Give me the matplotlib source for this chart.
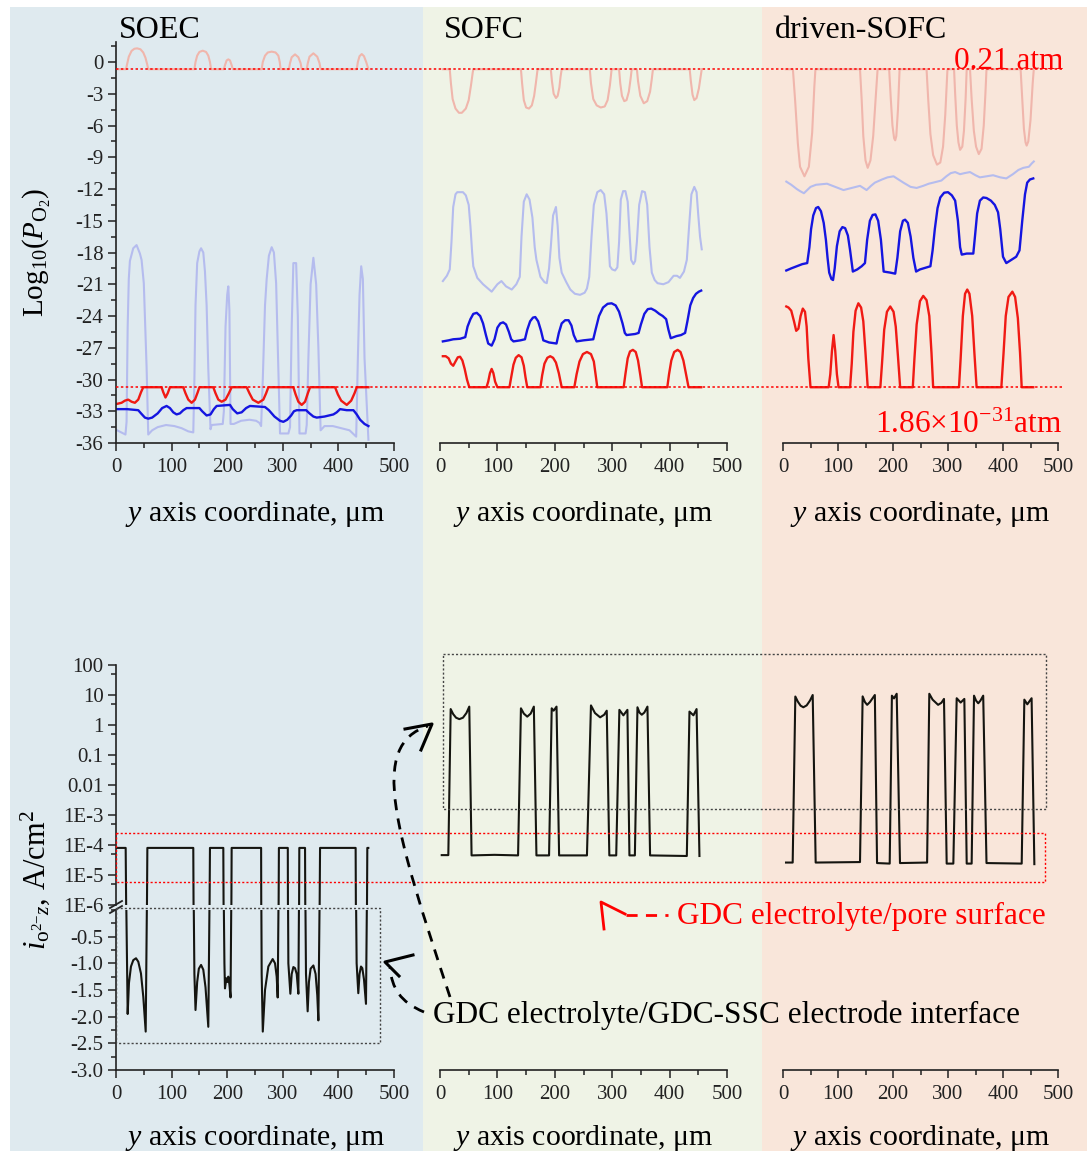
import numpy as np
import matplotlib
matplotlib.use("Agg")
import matplotlib.pyplot as plt
from matplotlib.lines import Line2D
from matplotlib.patches import Rectangle, PathPatch
from matplotlib.path import Path
import matplotlib.transforms as mtransforms
from matplotlib.ticker import MultipleLocator, FixedLocator, FixedFormatter

plt.rcParams['font.family'] = ['Liberation Serif', 'DejaVu Serif']
plt.rcParams['mathtext.fontset'] = 'custom'
plt.rcParams['mathtext.rm'] = 'Liberation Serif'
plt.rcParams['mathtext.it'] = 'Liberation Serif:italic'
plt.rcParams['mathtext.bf'] = 'Liberation Serif:bold'
plt.rcParams['axes.unicode_minus'] = False

# ---------------- data ----------------
PANELS = ['SOEC', 'SOFC', 'driven-SOFC']
P_AIR = 0.21
P_LOW = 1.86e-31
B = -0.68  # log10(0.21)

# top row: log10(P_O2) vs y (um)
SOEC_PINK = np.array([(2, B), (18, B), (20, -0.2), (23, 0.5), (28, 1.05), (33, 1.25), (38, 1.29), (44, 1.2), (49, 0.9), (53, 0.4), (56, -0.2), (58, B),
    (141, B), (143, 0.0), (146, 0.6), (150, 0.95), (156, 1.07), (162, 0.95), (166, 0.6), (169, 0.0), (171, B),
    (194, B), (196, -0.3), (199, 0.15), (202, 0.25), (205, 0.15), (208, -0.3), (210, B),
    (262, B), (264, 0.0), (268, 0.6), (273, 0.9), (280, 0.98), (287, 0.9), (292, 0.6), (294.5, 0.0), (296, B),
    (311, B), (313, -0.1), (316, 0.45), (322, 0.72), (328, 0.45), (332, -0.1), (334, B),
    (343, B), (345, -0.1), (348, 0.5), (355, 0.82), (362, 0.5), (366, -0.1), (368, B),
    (433, B), (435, 0.0), (438, 0.55), (442, 0.75), (446, 0.55), (450, 0.0), (454, B)])
SOEC_LAV = np.array([(2, -34.8), (17, -35.2), (19, -34.0), (21, -25.0), (23, -20.5), (25, -18.8), (31, -17.6), (37, -17.3), (43, -18.1), (46, -18.7), (50, -20.9), (55, -28.8), (58, -35.2),
    (65, -34.8), (75, -34.5), (90, -34.3), (105, -34.4), (118, -34.6), (130, -34.9), (139, -35.0), (141, -30.0), (143, -23.0), (146, -19.0), (150, -17.9), (153, -17.6), (157, -18.0), (160, -19.8), (163, -23.0), (166, -29.0), (170, -34.7),
    (172, -34.3), (192, -34.2), (194, -33.0), (197, -25.0), (200, -22.0), (202, -21.2), (204, -23.5), (206, -34.2), (212, -34.2), (225, -33.9), (240, -33.8), (252, -33.9), (258, -34.1), (261, -34.4),
    (264, -30.0), (268, -23.0), (271, -20.5), (275, -18.3), (280, -17.5), (284, -18.0), (288, -20.9), (291, -27.0), (295, -35.1), (310, -35.1), (313, -34.5), (316, -25.0), (319, -19.0), (324, -19.0), (327, -24.0), (330, -35.1),
    (341, -35.1), (343, -34.3), (346, -28.0), (350, -21.0), (355, -18.5), (360, -21.0), (364, -27.0), (368, -34.8), (375, -34.4), (390, -34.4), (405, -34.6), (420, -34.8), (432, -35.4),
    (435, -28.0), (438, -22.0), (441, -19.3), (444, -20.5), (447, -28.0), (454, -35.7)])
SOEC_BLUE = np.array([(2, -32.8), (20, -32.8), (40, -32.9), (45, -33.2), (52, -33.6), (58, -33.7), (65, -33.6), (75, -33.2), (83, -32.7), (91, -32.5), (97, -32.7), (103, -33.1), (109, -33.3), (115, -33.2), (121, -32.9), (127, -32.7),
    (150, -32.7), (155, -33.0), (163, -33.4), (170, -33.3), (176, -32.8), (181, -32.5), (205, -32.4), (210, -32.8), (218, -33.2), (226, -33.1), (234, -32.7), (241, -32.5), (268, -32.6), (275, -32.9), (285, -33.5), (295, -33.9),
    (301, -34.0), (308, -33.8), (315, -33.4), (320, -33.0), (325, -32.9), (342, -32.9), (348, -33.2), (355, -33.5), (361, -33.6), (375, -33.5), (391, -33.3), (397, -33.1), (403, -32.8), (415, -32.9), (427, -32.9),
    (433, -33.3), (439, -33.8), (447, -34.2), (454, -34.4)])
SOEC_RED = np.array([(2, -32.3), (10, -32.2), (16, -32.0), (22, -31.9), (28, -32.1), (34, -32.2), (40, -31.9), (45, -31.2), (49, -30.73), (82, -30.73), (85, -31.2), (89, -31.7), (93, -31.3), (97, -30.73),
    (121, -30.73), (125, -31.3), (130, -31.9), (136, -32.2), (142, -31.9), (147, -31.2), (150, -30.73), (175, -30.73), (179, -31.3), (184, -31.9), (190, -32.1), (197, -31.9), (203, -31.3), (208, -30.73),
    (235, -30.73), (240, -31.3), (246, -31.9), (256, -32.2), (265, -31.9), (270, -31.3), (274, -30.73), (319, -30.73), (323, -31.4), (328, -32.1), (334, -32.4), (340, -32.1), (345, -31.3), (349, -30.73),
    (394, -30.73), (399, -31.4), (405, -32.0), (415, -32.4), (423, -32.0), (429, -31.3), (433, -30.73), (454, -30.73)])

SOFC_PINK = np.array([(5, B), (17, B), (19, -2.0), (22, -3.5), (27, -4.4), (33, -4.8), (38, -4.8), (45, -4.4), (50, -3.6), (54, -2.2), (57, -1.0), (58, B),
    (141, B), (143, -2.0), (146, -3.6), (150, -4.3), (155, -4.4), (160, -4.1), (164, -3.2), (167, -2.0), (170, B),
    (193, B), (195, -1.8), (198, -3.0), (202, -3.4), (205, -3.2), (208, -2.4), (210, -1.4), (212, B),
    (261, B), (263, -2.0), (267, -3.5), (273, -4.1), (280, -4.3), (287, -4.2), (292, -3.6), (296, -2.2), (299, B),
    (312, B), (314, -2.0), (317, -3.2), (321, -3.7), (325, -3.6), (329, -2.8), (332, -1.6), (334, B),
    (343, B), (345, -1.8), (349, -3.2), (355, -3.9), (361, -3.7), (366, -2.8), (369, -1.6), (371, B),
    (435, B), (437, -1.8), (440, -3.1), (443, -3.6), (447, -3.4), (451, -2.5), (454, -1.4), (456, B)])
SOFC_LAV = np.array([(5, -20.7), (12, -20.2), (17, -19.6), (20, -17.0), (23, -13.7), (27, -12.5), (30, -12.3), (40, -12.3), (45, -12.6), (50, -13.5), (53, -15.5), (56, -18.0), (58, -19.3),
    (65, -20.4), (75, -21.0), (90, -21.7), (100, -21.0), (107, -20.7), (115, -21.2), (125, -21.5), (133, -21.0), (139, -20.3), (142, -16.5), (146, -13.2), (151, -12.5), (156, -13.0), (161, -14.7), (165, -17.5), (168, -18.7),
    (175, -20.3), (182, -20.8), (186, -20.9), (190, -19.5), (193, -17.5), (197, -14.5), (202, -13.7), (205, -15.5), (208, -18.5), (212, -19.9), (220, -20.8), (227, -21.5), (235, -21.9), (244, -22.0), (252, -21.8), (256, -21.4),
    (260, -20.3), (264, -16.5), (268, -13.5), (274, -12.3), (280, -12.1), (286, -12.5), (290, -14.3), (294, -17.5), (296, -19.3), (300, -19.6), (305, -19.7), (309, -19.4), (312, -17.0), (315, -13.0), (319, -12.2), (323, -12.2),
    (327, -13.2), (330, -16.0), (333, -18.7), (337, -19.1), (340, -18.8), (343, -17.0), (347, -13.5), (352, -12.2), (357, -12.3), (361, -13.5), (365, -17.5), (369, -19.9), (374, -20.6), (379, -20.9), (389, -21.0),
    (398, -20.8), (407, -20.2), (413, -20.2), (418, -20.4), (425, -19.8), (430, -18.7), (434, -15.5), (438, -12.5), (443, -11.8), (447, -12.3), (450, -14.5), (453, -16.5), (456, -17.7)])
SOFC_BLUE = np.array([(5, -26.4), (15, -26.3), (23, -26.2), (35, -26.15), (44, -26.0), (48, -25.0), (53, -24.3), (58, -23.8), (64, -23.7), (70, -24.0), (75, -24.7), (80, -25.8), (84, -26.6), (90, -26.8),
    (95, -26.2), (100, -25.1), (105, -24.7), (110, -24.6), (115, -24.8), (120, -25.5), (124, -26.2), (128, -26.4), (140, -26.3), (148, -26.2), (152, -25.3), (157, -24.5), (162, -24.15), (166, -24.1), (171, -24.5),
    (176, -25.4), (180, -26.3), (190, -26.5), (203, -26.6), (207, -25.6), (212, -24.7), (218, -24.4), (224, -24.4), (229, -24.9), (233, -25.8), (238, -26.4), (250, -26.3), (267, -26.2), (271, -25.3), (277, -24.0),
    (284, -23.2), (292, -22.85), (299, -22.8), (306, -23.0), (312, -23.6), (318, -24.7), (322, -25.6), (325, -25.8), (340, -25.7), (346, -25.6), (350, -24.8), (356, -23.8), (362, -23.35), (368, -23.3), (375, -23.5),
    (382, -23.8), (388, -24.0), (394, -24.3), (398, -25.3), (402, -26.1), (412, -25.9), (420, -25.8), (427, -25.6), (431, -24.5), (436, -23.0), (441, -22.3), (446, -21.9), (451, -21.7), (455, -21.6)])
SOFC_RED = np.array([(5, -27.8), (10, -27.8), (15, -28.0), (19, -28.5), (23, -28.7), (27, -28.3), (31, -27.9), (35, -27.85), (39, -28.2), (43, -29.0), (47, -30.0), (51, -30.73), (81, -30.73),
    (84, -30.2), (87, -29.4), (90, -29.0), (93, -29.4), (96, -30.2), (100, -30.73), (121, -30.73), (124, -29.8), (128, -28.6), (132, -27.95), (137, -27.7), (142, -27.9), (146, -28.7), (149, -29.8), (152, -30.73),
    (175, -30.73), (178, -29.6), (182, -28.5), (187, -27.95), (192, -27.8), (197, -27.95), (202, -28.4), (207, -29.4), (212, -30.73), (234, -30.73), (238, -29.5), (243, -28.3), (249, -27.6), (256, -27.4), (263, -27.6),
    (268, -28.3), (271, -29.5), (274, -30.73), (320, -30.73), (323, -29.5), (327, -28.0), (331, -27.35), (336, -27.2), (341, -27.4), (345, -28.2), (349, -29.6), (352, -30.73), (396, -30.73), (399, -29.5), (403, -28.2),
    (408, -27.4), (414, -27.2), (419, -27.4), (424, -28.2), (429, -29.6), (433, -30.73), (455, -30.73)])

DRV_PINK = np.array([(5, B), (18, B), (22, -3.6), (27, -7.7), (31, -9.9), (39, -10.8), (47, -9.9), (53, -6.7), (57, -2.3), (59, B),
    (140, B), (143, -3.5), (146, -7.0), (150, -9.3), (154, -10.0), (159, -9.3), (164, -7.0), (169, -3.0), (172, B),
    (193, B), (196, -3.5), (199, -6.0), (202, -7.2), (204, -7.4), (206, -7.0), (209, -4.5), (212, B),
    (261, B), (264, -3.5), (268, -6.8), (273, -8.8), (280, -9.7), (286, -9.5), (291, -8.0), (295, -5.0), (299, B),
    (311, B), (313, -3.0), (316, -6.0), (319, -7.6), (322, -8.3), (326, -8.0), (329, -6.5), (332, -3.5), (334, B),
    (340, B), (343, -3.5), (347, -6.5), (351, -8.0), (356, -8.7), (361, -8.2), (365, -6.0), (368, -3.0), (370, B),
    (432, B), (435, -3.5), (438, -6.3), (441, -7.6), (443, -7.9), (446, -7.5), (450, -5.5), (454, -2.0), (456, B)])
DRV_LAV = np.array([(6, -11.3), (15, -11.6), (25, -12.0), (31, -12.2), (38, -12.4), (44, -12.1), (50, -11.8), (60, -11.6), (80, -11.5), (95, -11.8), (110, -12.1), (125, -11.9), (140, -11.7), (152, -12.1),
    (160, -11.7), (167, -11.4), (180, -11.1), (190, -10.9), (201, -10.8), (210, -11.1), (219, -11.4), (232, -11.8), (243, -11.9), (255, -11.7), (265, -11.5), (273, -11.4), (288, -11.2), (297, -10.8), (305, -10.5),
    (313, -10.4), (322, -10.6), (330, -10.5), (340, -10.4), (350, -10.7), (358, -10.9), (370, -10.8), (382, -10.7), (395, -10.9), (406, -11.0), (418, -10.6), (428, -10.2), (437, -10.0), (447, -9.9), (452, -9.6), (456, -9.4)])
DRV_BLUE = np.array([(6, -19.7), (15, -19.5), (25, -19.3), (35, -19.1), (44, -19.0), (48, -17.5), (51, -15.8), (55, -14.5), (60, -13.8), (64, -13.7), (69, -14.1), (74, -15.2), (78, -16.8), (81, -18.5), (84, -19.9),
    (88, -20.5), (91, -20.6), (94, -19.5), (98, -17.4), (103, -16.0), (108, -15.6), (113, -15.7), (118, -16.4), (122, -17.8), (127, -19.8), (135, -19.6), (143, -19.3), (149, -19.0), (153, -16.8), (158, -15.0),
    (163, -14.45), (168, -14.4), (173, -15.0), (178, -16.8), (183, -19.8), (195, -19.9), (204, -20.0), (208, -18.5), (213, -16.0), (218, -15.0), (222, -14.9), (227, -15.2), (232, -16.5), (237, -18.5), (242, -19.8),
    (249, -19.6), (268, -19.3), (272, -17.8), (276, -15.8), (281, -13.8), (286, -12.8), (293, -12.35), (300, -12.3), (307, -12.6), (313, -13.1), (318, -15.0), (322, -17.5), (325, -18.2), (334, -18.1), (346, -18.1),
    (349, -16.5), (353, -14.3), (358, -13.1), (364, -12.8), (370, -12.85), (378, -13.1), (385, -13.5), (391, -14.2), (395, -15.8), (400, -18.4), (406, -19.0), (415, -18.7), (424, -18.4), (430, -17.8), (435, -15.0),
    (440, -12.5), (444, -11.4), (449, -11.1), (455, -11.0)])
DRV_RED = np.array([(6, -23.1), (10, -23.2), (15, -23.5), (20, -24.5), (24, -25.4), (28, -25.2), (32, -24.0), (36, -23.3), (40, -23.6), (43, -25.0), (46, -28.0), (50, -30.73), (83, -30.73), (86, -29.5),
    (89, -27.3), (92, -25.8), (95, -27.3), (98, -29.5), (101, -30.73), (122, -30.73), (125, -28.5), (128, -25.5), (132, -23.5), (137, -22.8), (142, -23.2), (146, -24.5), (150, -27.5), (154, -30.73),
    (177, -30.73), (180, -28.5), (184, -25.3), (189, -23.6), (195, -23.1), (201, -23.6), (205, -25.0), (209, -27.8), (213, -30.73), (236, -30.73), (239, -28.0), (243, -24.8), (249, -22.6), (255, -22.1),
    (261, -22.5), (266, -24.0), (270, -27.5), (273, -30.73), (320, -30.73), (323, -28.0), (327, -24.0), (331, -21.9), (335, -21.5), (339, -21.9), (344, -24.0), (348, -27.5), (352, -30.73), (397, -30.73),
    (401, -27.5), (405, -24.0), (410, -22.2), (417, -21.7), (422, -22.2), (427, -24.2), (431, -27.5), (434, -30.73), (455, -30.73)])

# bottom row: oxygen-ion current density (A/cm2) vs y (um)
POS = 8.0e-5
SOEC_I = np.array([(0, POS), (17.4, POS), (21, -1.95), (23.3, -1.37), (26.9, -1.06), (31.1, -0.94), (36, -0.905), (40.1, -0.97), (44.9, -1.19), (49.1, -1.63), (53.4, -2.28), (56.4, POS),
    (139, POS), (141, -1.2), (143, -1.875), (146, -1.35), (149, -1.1), (153, -1.03), (157, -1.12), (161, -1.45), (166, -2.19), (169, POS),
    (193, POS), (195, -1.0), (196, -1.47), (198.5, -1.28), (200.5, -1.35), (202, -1.25), (204, -1.40), (206, -1.64), (208, POS),
    (261, POS), (262, -1.2), (264, -2.28), (268, -1.5), (274, -1.06), (281.8, -0.92), (286, -1.0), (289, -1.25), (290.8, -1.64), (293, POS),
    (309, POS), (310, -1.0), (313.6, -1.57), (316, -1.2), (319, -1.07), (322, -1.09), (325, -1.2), (328, -1.57), (329.7, POS),
    (340, POS), (341.7, -1.2), (344.7, -1.9), (347, -1.35), (350, -1.1), (355, -1.04), (359, -1.2), (362, -1.6), (364, -2.07), (367, POS),
    (431, POS), (432.8, -1.0), (435.8, -1.56), (438, -1.2), (440.6, -1.06), (443, -1.09), (446, -1.3), (449.6, -1.76), (452, POS), (453.8, POS)])
SOFC_I = np.array([(3, 4.6e-5), (14.5, 4.6e-5), (18.6, 3.4), (23, 2.3), (28, 1.75), (33.7, 1.57), (40, 1.75), (46, 2.5), (51, 4.1), (55, 4.5e-5),
    (95, 4.7e-5), (136, 4.5e-5), (141, 3.6), (146, 2.4), (152, 1.9), (158, 2.4), (163.5, 4.1), (168, 4.5e-5), (190, 4.5e-5),
    (194.6, 3.6), (198, 3.0), (203, 4.1), (207.5, 4.5e-5), (256, 4.5e-5), (263, 4.5), (270, 2.5), (279, 1.8), (286, 2.2), (290.5, 3.0), (295, 4.5e-5),
    (307, 4.5e-5), (312.5, 3.2), (319.5, 2.1), (326.5, 3.2), (330, 4.5e-5), (339.5, 4.5e-5), (344, 3.9), (347.5, 2.6), (351.5, 2.2), (356, 2.6), (361.4, 4.1), (366, 4.5e-5),
    (430, 4.3e-5), (434.6, 2.8), (441.5, 2.1), (447, 3.4), (452, 4.3e-5)])
DRV_I = np.array([(5.5, 2.6e-5), (17.6, 2.6e-5), (22.4, 8.9), (27, 6.0), (32, 4.4), (37, 3.9), (43, 4.5), (49, 6.5), (54, 10.0), (59.4, 2.6e-5),
    (140, 2.7e-5), (144.8, 9.0), (149, 5.8), (153, 4.7), (158, 5.8), (167, 10.0), (171, 2.5e-5), (194, 2.4e-5), (198, 9.5), (201.8, 7.7), (206.7, 11.0), (212.7, 2.5e-5),
    (262, 2.6e-5), (266, 11.0), (272, 7.0), (282, 4.7), (288, 5.5), (292.7, 7.4), (297.6, 2.4e-5), (309.7, 2.4e-5), (315.8, 7.8), (323, 5.6), (329.7, 7.4), (334, 2.4e-5),
    (343, 2.4e-5), (347.3, 9.5), (351, 6.5), (355, 5.3), (359, 6.5), (364, 9.5), (370, 2.5e-5), (434, 2.4e-5), (438.8, 7.0), (444.2, 4.9), (452, 7.8), (457, 2.3e-5)])

LOG_TICKS = [1e-6, 1e-5, 1e-4, 1e-3, 1e-2, 1e-1, 1, 10, 100]
LOG_LABELS = ['1E-6', '1E-5', '1E-4', '1E-3', '0.01', '0.1', '1', '10', '100']
NEG_TICKS = [-3.0, -2.5, -2.0, -1.5, -1.0, -0.5]
NEG_LABELS = ['-3.0', '-2.5', '-2.0', '-1.5', '-1.0', '-0.5']

# ---------------- styling ----------------
W, H = 1087, 1151
fig = plt.figure(figsize=(W / 100, H / 100), dpi=100)
fig.patch.set_facecolor('white')
PX = mtransforms.Affine2D().scale(1.0 / W, -1.0 / H).translate(0, 1) + fig.transFigure

def axbox(l, t, r, b):
    return [l / W, 1 - b / H, (r - l) / W, (b - t) / H]

BG = ['#dfeaef', '#eff3e6', '#f9e6da']
for (l, r), c in zip([(10, 423), (423, 762), (762, 1087)], BG):
    fig.add_artist(Rectangle((l, 7), r - l, H - 7, transform=PX, fc=c, ec='none', zorder=-10))

PINK = '#f0b6ac'
LAV = '#b5bcee'
BLUE = '#1515e0'
RED = '#f01a14'
BLACK = '#151510'
SP = '#222222'
XLAB = '$y$ axis coordinate, μm'

def style(ax, left=True):
    ax.set_facecolor('none')
    ax.spines['top'].set_visible(False)
    ax.spines['right'].set_visible(False)
    ax.spines['left'].set_visible(left)
    for s in ax.spines.values():
        s.set_color(SP)
        s.set_linewidth(1.2)
    ax.tick_params(which='both', direction='out', labelsize=15, colors=SP, width=1.1)
    ax.tick_params(which='major', length=6, pad=3)
    ax.tick_params(which='minor', length=3.5)
    ax.tick_params(axis='x', which='major', pad=5)
    if not left:
        ax.tick_params(axis='y', which='both', left=False, labelleft=False)

def style_x(ax, label_y_axes):
    ax.set_xlim(0, 500)
    ax.xaxis.set_major_locator(MultipleLocator(100))
    ax.xaxis.set_minor_locator(MultipleLocator(50))
    ax.set_xlabel(XLAB, fontsize=21.5)
    ax.xaxis.set_label_coords(0.5, label_y_axes)
    ax.xaxis.label.set_va('center')

# ---------- top row ----------
TOPX = [(116, 394), (440, 727), (783, 1058)]
top_data = [(SOEC_PINK, SOEC_LAV, SOEC_BLUE, SOEC_RED),
            (SOFC_PINK, SOFC_LAV, SOFC_BLUE, SOFC_RED),
            (DRV_PINK, DRV_LAV, DRV_BLUE, DRV_RED)]
top_axes = []
for i, ((l, r), series) in enumerate(zip(TOPX, top_data)):
    ax = fig.add_axes(axbox(l, 42, r, 443))
    style(ax, left=(i == 0))
    ax.set_ylim(-36, 1.89)
    style_x(ax, -(514 - 443) / 401)
    pk, lv, bl, rd = series
    ax.plot(pk[:, 0], pk[:, 1], color=PINK, lw=1.5)
    ax.plot(lv[:, 0], lv[:, 1], color=LAV, lw=1.5)
    ax.plot(bl[:, 0], bl[:, 1], color=BLUE, lw=1.7)
    ax.plot(rd[:, 0], rd[:, 1], color=RED, lw=1.7)
    if i == 0:
        ax.yaxis.set_major_locator(MultipleLocator(3))
        ax.yaxis.set_minor_locator(MultipleLocator(1.5))
        ax.set_ylabel(r'Log$_{10}$($P_{\mathrm{O}_2}$)', fontsize=21)
        ax.yaxis.set_label_coords((37 - 116) / 278, (443 - 252) / 401)
        ax.yaxis.label.set_va('center')
    top_axes.append(ax)

blend = mtransforms.blended_transform_factory(PX, top_axes[0].transData)
for p in (P_AIR, P_LOW):
    fig.add_artist(Line2D([116, 1063], [np.log10(p)] * 2, transform=blend, color='red', lw=1.1, ls=(0, (1.6, 1.6)), zorder=5))

fig.text(1063, 69, '0.21 atm', transform=PX, color='red', fontsize=22.5, ha='right', va='baseline')
fig.text(1062, 433, '1.86×10$^{-31}$atm', transform=PX, color='red', fontsize=22.5, ha='right', va='baseline')
for x, name in zip([119, 444, 775], PANELS):
    fig.text(x, 30, name, transform=PX, fontsize=23, va='center', ha='left')

# ---------- bottom row ----------
# SOEC: broken axis (log upper, linear lower)
ax_u = fig.add_axes(axbox(116, 665, 394, 905))
style(ax_u)
ax_u.spines['bottom'].set_visible(False)
ax_u.set_xlim(0, 500)
ax_u.tick_params(axis='x', which='both', bottom=False, labelbottom=False)
ax_u.set_yscale('log')
ax_u.set_ylim(1e-6, 100)
ax_u.yaxis.set_major_locator(FixedLocator(LOG_TICKS))
ax_u.yaxis.set_major_formatter(FixedFormatter(LOG_LABELS))
ax_u.yaxis.set_minor_locator(FixedLocator([5 * t for t in LOG_TICKS[:-1]]))
ax_u.yaxis.set_minor_formatter(FixedFormatter([''] * 8))
ax_u.plot(SOEC_I[:, 0], np.where(SOEC_I[:, 1] > 0, SOEC_I[:, 1], 1e-12), color=BLACK, lw=1.5)
ax_u.set_ylabel(r'$i_{\mathrm{o}^{2\mathrm{-}}z}$, A/cm$^{2}$', fontsize=22)
ax_u.yaxis.set_label_coords((35 - 116) / 278, (905 - 880) / 240)
ax_u.yaxis.label.set_va('center')

ax_l = fig.add_axes(axbox(116, 910, 394, 1070))
style(ax_l)
ax_l.set_ylim(-3.0, 0.0)
ax_l.yaxis.set_major_locator(FixedLocator(NEG_TICKS))
ax_l.yaxis.set_major_formatter(FixedFormatter(NEG_LABELS))
ax_l.yaxis.set_minor_locator(MultipleLocator(0.25))
style_x(ax_l, -(1138 - 1070) / 160)
ax_l.plot(SOEC_I[:, 0], np.where(SOEC_I[:, 1] > 0, 1.0, SOEC_I[:, 1]), color=BLACK, lw=1.5)

for dy in (0, 5):
    fig.add_artist(Line2D([110, 122], [908 + dy, 901 + dy], transform=PX, color=SP, lw=1.3))

BOTX = [(440, 727), (783, 1058)]
for (l, r), cur in zip(BOTX, [SOFC_I, DRV_I]):
    ax = fig.add_axes(axbox(l, 665, r, 1070))
    style(ax, left=False)
    ax.set_yscale('log')
    ax.set_ylim(10 ** (2 - 405 / 30.0), 100)
    ax.tick_params(axis='y', which='both', left=False, labelleft=False)
    style_x(ax, -(1138 - 1070) / 405)
    ax.plot(cur[:, 0], cur[:, 1], color=BLACK, lw=1.5)

# decorations: dotted boxes
fig.add_artist(Rectangle((116, 908), 264, 135, transform=PX, fill=False, ec='#444444', lw=1.0, ls=(0, (1.5, 1.5)), zorder=4))
fig.add_artist(Rectangle((116, 833), 929, 49, transform=PX, fill=False, ec='red', lw=1.0, ls=(0, (1.5, 1.5)), zorder=4))
fig.add_artist(Rectangle((443, 654), 603, 155, transform=PX, fill=False, ec='#444444', lw=1.0, ls=(0, (1.5, 1.5)), zorder=4))

# arrows
curve1 = Path([(450, 997), (395, 830), (368, 745), (428, 726)], [Path.MOVETO, Path.CURVE4, Path.CURVE4, Path.CURVE4])
fig.add_artist(PathPatch(curve1, transform=PX, fill=False, ec='black', lw=2.0, ls=(0, (4, 3)), zorder=6))
fig.add_artist(Line2D([405, 432, 421], [729, 724, 750], transform=PX, color='black', lw=2.2, zorder=6))
curve2 = Path([(424, 1012), (400, 1002), (392, 988), (390, 968)], [Path.MOVETO, Path.CURVE4, Path.CURVE4, Path.CURVE4])
fig.add_artist(PathPatch(curve2, transform=PX, fill=False, ec='black', lw=2.0, ls=(0, (4, 3)), zorder=6))
fig.add_artist(Line2D([413, 385, 399], [955, 962, 976], transform=PX, color='black', lw=2.2, zorder=6))
fig.add_artist(Line2D([626, 668], [915, 915], transform=PX, color='red', lw=2.0, ls=(0, (4, 3)), zorder=6))
fig.add_artist(Line2D([604, 601, 625], [929, 902, 914], transform=PX, color='red', lw=2.0, zorder=6))

fig.text(677, 916, 'GDC electrolyte/pore surface', transform=PX, color='red', fontsize=22.5, ha='left', va='center')
fig.text(433, 1015, 'GDC electrolyte/GDC-SSC electrode interface', transform=PX, color='black', fontsize=22.5, ha='left', va='center')

fig.savefig('out.png', dpi=100)
